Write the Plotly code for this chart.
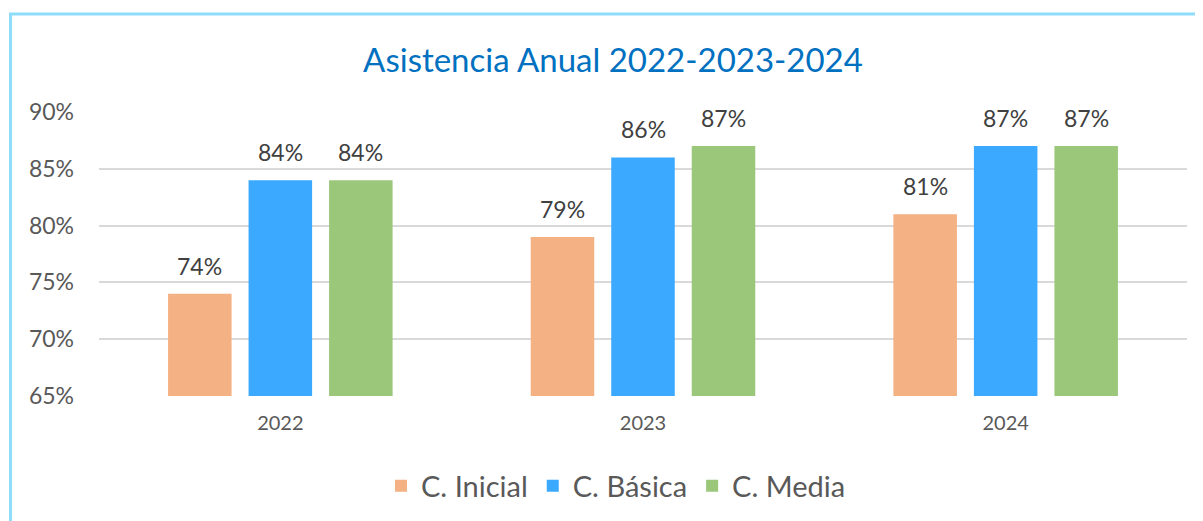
import plotly.graph_objects as go

years = ["2022", "2023", "2024"]
series_names = ["C. Inicial", "C. Básica", "C. Media"]
inicial = [74, 79, 81]
basica = [84, 86, 87]
media = [84, 87, 87]
colors = ["#F4B183", "#3BA9FF", "#9BC77A"]
yticks = [65, 70, 75, 80, 85, 90]

OFF = 8  # default page body margin
W, H = 1203 - OFF, 521 - OFF
# plot area in reference-pixel coordinates
PX0, PX1, PY0, PY1 = 99, 1187, 112, 396
L, T = PX0 - OFF, PY0 - OFF
R, B = W - (PX1 - OFF), H - (PY1 - OFF)
pw, ph = PX1 - PX0, PY1 - PY0
BARGAP = 0.334
slot_px = pw / len(years) * (1 - BARGAP) / len(series_names)

def px_x(x):
    return (x - PX0) / pw

def px_y(y):
    return 1 - (y - PY0) / ph

fig = go.Figure()
annotations = []
all_vals = [inicial, basica, media]
for i, (name, vals, col) in enumerate(zip(series_names, all_vals, colors)):
    fig.add_trace(go.Bar(
        x=years, y=vals, name=name, marker=dict(color=col, line=dict(width=0)),
    ))
    for j, v in enumerate(vals):
        # category axis: annotation x is the category's serial index
        annotations.append(dict(
            x=j, y=v, xref="x", yref="y", text=f"{v}%", showarrow=False,
            xshift=(i - (len(series_names) - 1) / 2) * slot_px, yshift=12,
            yanchor="bottom", xanchor="center",
            font=dict(size=23, color="#404040"),
        ))

fig.update_layout(
    width=W, height=H,
    margin=dict(l=L, r=R, t=T, b=B, autoexpand=False),
    paper_bgcolor="white", plot_bgcolor="white",
    font=dict(family="Lato, Open Sans, sans-serif", color="#595959"),
    title=dict(text="Asistencia Anual 2022-2023-2024", x=(613 - OFF) / W, xanchor="center",
               xref="container", y=1 - (60 - OFF) / H, yanchor="middle", yref="container",
               font=dict(size=33, color="#0070C0")),
    barmode="group", bargap=BARGAP, bargroupgap=0.211,
    showlegend=True,
    legend=dict(orientation="h", x=px_x(616), xanchor="center", y=px_y(486), yanchor="middle",
                font=dict(size=29, color="#595959"), itemwidth=30),
    xaxis=dict(type="category", range=[-0.5, len(years) - 0.5], showgrid=False, showline=False,
               ticks="", tickfont=dict(size=20, color="#595959"), ticklabelstandoff=13),
    yaxis=dict(range=[65, 90], tickvals=yticks, ticktext=[f"{v}%" for v in yticks],
               showgrid=True, gridcolor="#D9D9D9", gridwidth=1.5, zeroline=False, showline=False,
               tickfont=dict(size=23, color="#595959"), ticklabelstandoff=24),
    annotations=annotations,
    shapes=[
        dict(type="line", xref="paper", yref="paper", x0=px_x(10.5), x1=px_x(10.5),
             y0=px_y(14), y1=px_y(530), line=dict(color="#8FDDF9", width=3)),
        dict(type="line", xref="paper", yref="paper", x0=px_x(9), x1=px_x(1210),
             y0=px_y(14), y1=px_y(14), line=dict(color="#8FDDF9", width=3)),
    ],
)

fig.write_html("out.html")
